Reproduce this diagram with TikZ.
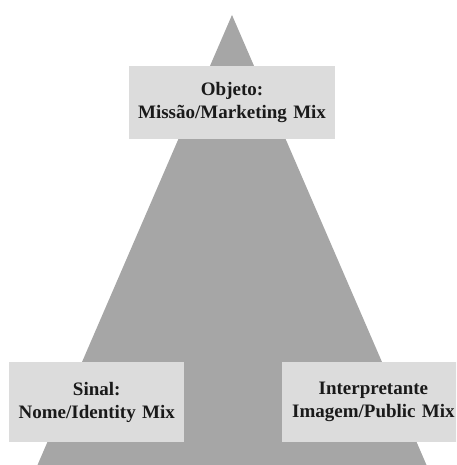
\documentclass[tikz,border=0pt]{standalone}
\usepackage{fontspec}
\setmainfont{Liberation Serif}
\definecolor{pyramid}{HTML}{A6A6A6}
\definecolor{boxfill}{HTML}{DCDCDC}
\definecolor{ink}{HTML}{1A1A1A}
\begin{document}
\begin{tikzpicture}[x=1pt,y=-1pt,
  label box/.style={fill=boxfill, draw=none, inner sep=0pt, anchor=north west,
    text=ink, font=\fontsize{19}{23}\selectfont\bfseries, align=center}]
  \useasboundingbox (0,0) rectangle (456,465);
  \clip (0,0) rectangle (456,465);
  % pyramid
  \coordinate (apex) at (232,15);
  \coordinate (baseL) at (37.5,465);
  \coordinate (baseR) at (426.5,465);
  \fill[pyramid] (apex) -- (baseR) -- (baseL) -- cycle;
  % label boxes
  \node[label box, minimum width=206.3pt, minimum height=73.6pt, text width=206.3pt] (obj) at (128.7,65.7)
    {Objeto:\\Missão/Marketing Mix};
  \node[label box, minimum width=175pt, minimum height=80pt, text width=175pt] (sig) at (9,362)
    {Sinal:\\Nome/Identity Mix};
  \node[label box, minimum width=183pt, minimum height=80pt, text width=183pt] (int) at (281.7,362)
    {Interpretante\\Imagem/Public Mix};
\end{tikzpicture}
\end{document}
